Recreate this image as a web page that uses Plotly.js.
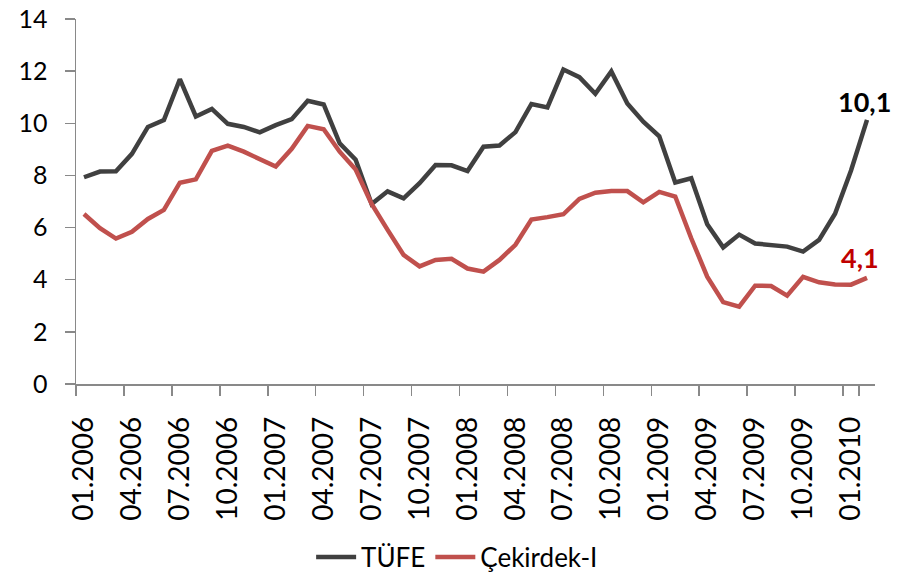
<!DOCTYPE html>
<html>
<head>
<meta charset="utf-8">
<script src="https://cdn.plot.ly/plotly-3.0.1.min.js"></script>
<style>html,body{margin:0;padding:0;background:#fff;}#chart{width:897px;height:579px;}</style>
</head>
<body>
<div id="chart"></div>
<script>
const months = [
  "01.2006","02.2006","03.2006","04.2006","05.2006","06.2006","07.2006","08.2006","09.2006","10.2006","11.2006","12.2006",
  "01.2007","02.2007","03.2007","04.2007","05.2007","06.2007","07.2007","08.2007","09.2007","10.2007","11.2007","12.2007",
  "01.2008","02.2008","03.2008","04.2008","05.2008","06.2008","07.2008","08.2008","09.2008","10.2008","11.2008","12.2008",
  "01.2009","02.2009","03.2009","04.2009","05.2009","06.2009","07.2009","08.2009","09.2009","10.2009","11.2009","12.2009",
  "01.2010","02.2010"
];
const tufe = [
  7.93, 8.15, 8.16, 8.83, 9.86, 10.12, 11.69, 10.26, 10.55, 9.98, 9.86, 9.65,
  9.93, 10.16, 10.86, 10.72, 9.23, 8.60, 6.90, 7.39, 7.12, 7.70, 8.40, 8.39,
  8.17, 9.10, 9.15, 9.66, 10.74, 10.61, 12.06, 11.77, 11.13, 11.99, 10.76, 10.06,
  9.50, 7.73, 7.89, 6.13, 5.24, 5.73, 5.39, 5.33, 5.27, 5.08, 5.53, 6.53,
  8.19, 10.13
];
const cekirdek = [
  6.52, 5.98, 5.58, 5.84, 6.33, 6.68, 7.72, 7.85, 8.94, 9.14, 8.91, 8.62,
  8.34, 9.02, 9.90, 9.77, 8.91, 8.23, 6.91, 5.91, 4.95, 4.51, 4.76, 4.80,
  4.43, 4.31, 4.76, 5.34, 6.31, 6.40, 6.51, 7.10, 7.34, 7.40, 7.40, 6.97,
  7.37, 7.19, 5.59, 4.12, 3.14, 2.97, 3.77, 3.76, 3.39, 4.11, 3.90, 3.82,
  3.81, 4.07
];
const tickLabels = ["01.2006","04.2006","07.2006","10.2006","01.2007","04.2007","07.2007","10.2007","01.2008","04.2008","07.2008","10.2008","01.2009","04.2009","07.2009","10.2009","01.2010"];
const yTicks = [0, 2, 4, 6, 8, 10, 12, 14];
const endLabels = ["10,1", "4,1"];

const F = "Lato, 'Open Sans', sans-serif";
const traces = [
  {x: months, y: tufe, type: "scatter", mode: "lines", name: "TÜFE",
   line: {color: "#404040", width: 4.5}},
  {x: months, y: cekirdek, type: "scatter", mode: "lines", name: "Çekirdek-I",
   line: {color: "#C0504D", width: 4.5}}
];
const last = months.length - 1;
const layout = {
  width: 897, height: 579,
  margin: {l: 76, r: 22, t: 19, b: 195, autoexpand: false},
  paper_bgcolor: "#fff", plot_bgcolor: "#fff",
  font: {family: F, color: "#000"},
  showlegend: true,
  legend: {orientation: "h", x: 0.477, xanchor: "center", y: -0.474, yanchor: "middle",
           font: {size: 26, family: F, color: "#000"}, itemwidth: 40, tracegroupgap: 0},
  xaxis: {type: "category", range: [-0.5, last + 0.5], autorange: false,
          tickmode: "array", tickvals: tickLabels, ticktext: tickLabels,
          tickangle: -90, tickson: "boundaries", ticks: "outside", ticklen: 10, tickwidth: 1.5,
          tickcolor: "#898989", showline: true, linecolor: "#898989", linewidth: 1.5,
          showgrid: false, zeroline: false, tickfont: {size: 28, family: F, color: "#000"},
          ticklabelstandoff: 20, fixedrange: true},
  yaxis: {range: [0, 14], autorange: false, tickmode: "array", tickvals: yTicks, ticks: "outside", ticklen: 10,
          tickwidth: 1.5, tickcolor: "#898989", showline: true, linecolor: "#898989", linewidth: 1.5,
          showgrid: false, zeroline: false, tickfont: {size: 25, family: F, color: "#000"},
          ticklabelstandoff: 12, fixedrange: true},
  annotations: [
    {x: last, y: tufe[last], xref: "x", yref: "y", text: "<b>" + endLabels[0] + "</b>", showarrow: false,
     xanchor: "center", yanchor: "middle", xshift: -3, yshift: 18,
     font: {size: 27, family: F, color: "#000"}},
    {x: last, y: cekirdek[last], xref: "x", yref: "y", text: "<b>" + endLabels[1] + "</b>", showarrow: false,
     xanchor: "center", yanchor: "middle", xshift: -7, yshift: 20,
     font: {size: 27, family: F, color: "#C00000"}}
  ]
};
Plotly.newPlot("chart", traces, layout, {displayModeBar: false, staticPlot: true});
</script>
</body>
</html>
